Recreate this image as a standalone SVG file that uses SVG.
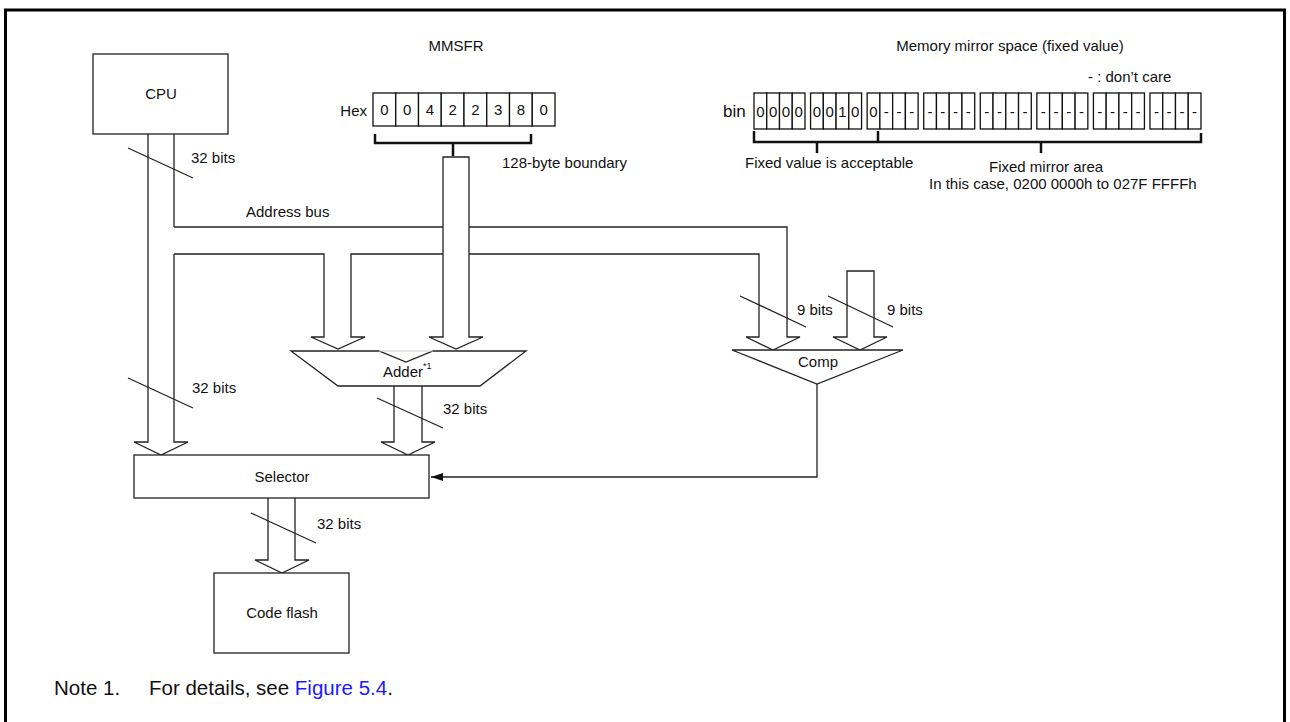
<svg xmlns="http://www.w3.org/2000/svg" width="1290" height="722" viewBox="0 0 1290 722">
<style>
text{font-family:"Liberation Sans",Arial,sans-serif;font-size:15px;fill:#111}
.c{text-anchor:middle}
.ln{fill:none;stroke:#222;stroke-width:1.3}
.bx{fill:#fff;stroke:#222;stroke-width:1.3}
.br{fill:none;stroke:#111;stroke-width:2.5}
.cell{fill:#fff;stroke:#111;stroke-width:1.3}
</style>
<defs>
<marker id="ah" markerWidth="12" markerHeight="8" refX="12" refY="4" orient="auto" markerUnits="userSpaceOnUse">
<path d="M0,0 L12,4 L0,8 Z" fill="#111"/>
</marker>
</defs>
<rect x="5.5" y="10" width="1279" height="730" fill="#fff" stroke="#000" stroke-width="3"/>

<g id="connectors">
<path class="ln" d="M148,134 V442 H134 L161,455 L188,442 H174 V254 M174,227 V134"/>
<path class="ln" d="M174,227 H443 M469,227 H787 V337 H800 L773,350 L746,337 H759 V254 H469 M443,254 H351 V337 H365 L338,349 L311,337 H324 V254 H174"/>
<path class="ln" d="M443,157 H469 V337 H483 L456,349 L429,337 H443 Z"/>
<path class="ln" d="M847,271 H874 V337 H887 L860,350 L833,337 H847 Z"/>
<path class="ln" d="M394,386 V442 H381 L408,455 L435,442 H422 V386"/>
<path class="ln" d="M268,498 V560 H255 L282,573 L309,560 H295 V498"/>
<path class="ln" d="M817,384 V477 H431" marker-end="url(#ah)"/>
<line class="ln" x1="128" y1="148" x2="193" y2="178"/>
<line class="ln" x1="128" y1="378" x2="193" y2="408"/>
<line class="ln" x1="377" y1="398" x2="443" y2="428"/>
<line class="ln" x1="251" y1="513" x2="316" y2="543"/>
<line class="ln" x1="740" y1="296" x2="806" y2="327"/>
<line class="ln" x1="828" y1="296" x2="893" y2="327"/>
<path class="br" d="M375,134 V143 H531 V134 M453,143 V156"/>
<path class="br" d="M754,131 V142 H1201 V133 M878,142 V131 M817,142 V153 M1041,142 V153"/>
</g>

<g id="cpu">
<rect class="bx" x="93" y="54" width="135" height="80"/>
<text class="c" x="161" y="99">CPU</text>
</g>
<g id="adder">
<path class="bx" d="M291,351 H379 L406,362 L433,351 H526 L480,386 H338 Z"/>
<line x1="379" y1="351" x2="433" y2="351" stroke="#ccc" stroke-width="1"/>
<text x="383" y="377">Adder<tspan font-size="9" dy="-8">*1</tspan></text>
</g>
<g id="comp">
<path class="bx" d="M732,350 H903 L817,384 Z"/>
<text class="c" x="818" y="367">Comp</text>
</g>
<g id="selector">
<rect class="bx" x="134" y="455" width="295" height="43"/>
<text class="c" x="282" y="482">Selector</text>
</g>
<g id="codeflash">
<rect class="bx" x="214" y="573" width="135" height="80"/>
<text class="c" x="282" y="618">Code flash</text>
</g>

<g id="mmsfr">
<text class="c" x="456" y="51">MMSFR</text>
<text x="367" y="116" style="text-anchor:end">Hex</text>
<g class="cell">
<rect x="373" y="93" width="22.75" height="33"/><rect x="395.75" y="93" width="22.75" height="33"/><rect x="418.5" y="93" width="22.75" height="33"/><rect x="441.25" y="93" width="22.75" height="33"/><rect x="464" y="93" width="22.75" height="33"/><rect x="486.75" y="93" width="22.75" height="33"/><rect x="509.5" y="93" width="22.75" height="33"/><rect x="532.25" y="93" width="22.75" height="33"/>
</g>
<text class="c" x="384.4" y="115">0</text><text class="c" x="407.1" y="115">0</text><text class="c" x="429.9" y="115">4</text><text class="c" x="452.6" y="115">2</text><text class="c" x="475.4" y="115">2</text><text class="c" x="498.1" y="115">3</text><text class="c" x="520.9" y="115">8</text><text class="c" x="543.6" y="115">0</text>
<text x="502" y="168">128-byte boundary</text>
</g>

<g id="mirror">
<text class="c" x="1010" y="51">Memory mirror space (fixed value)</text>
<text x="1088" y="82">- : don’t care</text>
<text x="723" y="117" style="font-size:17px">bin</text>
<g id="bincells" class="cell">
<rect x="754" y="93" width="12.75" height="36"/><rect x="766.75" y="93" width="12.75" height="36"/><rect x="779.5" y="93" width="12.75" height="36"/><rect x="792.25" y="93" width="12.75" height="36"/>
<rect x="810.57" y="93" width="12.75" height="36"/><rect x="823.32" y="93" width="12.75" height="36"/><rect x="836.07" y="93" width="12.75" height="36"/><rect x="848.82" y="93" width="12.75" height="36"/>
<rect x="867.14" y="93" width="12.75" height="36"/><rect x="879.89" y="93" width="12.75" height="36"/><rect x="892.64" y="93" width="12.75" height="36"/><rect x="905.39" y="93" width="12.75" height="36"/>
<rect x="923.71" y="93" width="12.75" height="36"/><rect x="936.46" y="93" width="12.75" height="36"/><rect x="949.21" y="93" width="12.75" height="36"/><rect x="961.96" y="93" width="12.75" height="36"/>
<rect x="980.28" y="93" width="12.75" height="36"/><rect x="993.03" y="93" width="12.75" height="36"/><rect x="1005.78" y="93" width="12.75" height="36"/><rect x="1018.53" y="93" width="12.75" height="36"/>
<rect x="1036.85" y="93" width="12.75" height="36"/><rect x="1049.6" y="93" width="12.75" height="36"/><rect x="1062.35" y="93" width="12.75" height="36"/><rect x="1075.1" y="93" width="12.75" height="36"/>
<rect x="1093.42" y="93" width="12.75" height="36"/><rect x="1106.17" y="93" width="12.75" height="36"/><rect x="1118.92" y="93" width="12.75" height="36"/><rect x="1131.67" y="93" width="12.75" height="36"/>
<rect x="1149.99" y="93" width="12.75" height="36"/><rect x="1162.74" y="93" width="12.75" height="36"/><rect x="1175.49" y="93" width="12.75" height="36"/><rect x="1188.24" y="93" width="12.75" height="36"/>
</g>
<g class="c">
<text x="760.4" y="117">0</text><text x="773.1" y="117">0</text><text x="785.9" y="117">0</text><text x="798.6" y="117">0</text>
<text x="816.9" y="117">0</text><text x="829.7" y="117">0</text><text x="842.4" y="117">1</text><text x="855.2" y="117">0</text>
<text x="873.5" y="117">0</text><text x="886.3" y="117">-</text><text x="899" y="117">-</text><text x="911.8" y="117">-</text>
<text x="930.1" y="117">-</text><text x="942.8" y="117">-</text><text x="955.6" y="117">-</text><text x="968.3" y="117">-</text>
<text x="986.7" y="117">-</text><text x="999.4" y="117">-</text><text x="1012.2" y="117">-</text><text x="1024.9" y="117">-</text>
<text x="1043.2" y="117">-</text><text x="1056" y="117">-</text><text x="1068.7" y="117">-</text><text x="1081.5" y="117">-</text>
<text x="1099.8" y="117">-</text><text x="1112.5" y="117">-</text><text x="1125.3" y="117">-</text><text x="1138" y="117">-</text>
<text x="1156.4" y="117">-</text><text x="1169.1" y="117">-</text><text x="1181.9" y="117">-</text><text x="1194.6" y="117">-</text>
</g>
<text x="745" y="168">Fixed value is acceptable</text>
<text x="989" y="172">Fixed mirror area</text>
<text x="929" y="189">In this case, 0200 0000h to 027F FFFFh</text>
</g>

<g id="labels">
<text x="191" y="163">32 bits</text>
<text x="246" y="217">Address bus</text>
<text x="192" y="393">32 bits</text>
<text x="443" y="414">32 bits</text>
<text x="797" y="315">9 bits</text>
<text x="887" y="315">9 bits</text>
<text x="317" y="529">32 bits</text>
</g>

<g id="note">
<text x="54" y="695" style="font-size:20.5px">Note 1.</text>
<text x="149" y="695" style="font-size:20.5px">For details, see <tspan fill="#1a1aff">Figure 5.4</tspan>.</text>
</g>
</svg>
